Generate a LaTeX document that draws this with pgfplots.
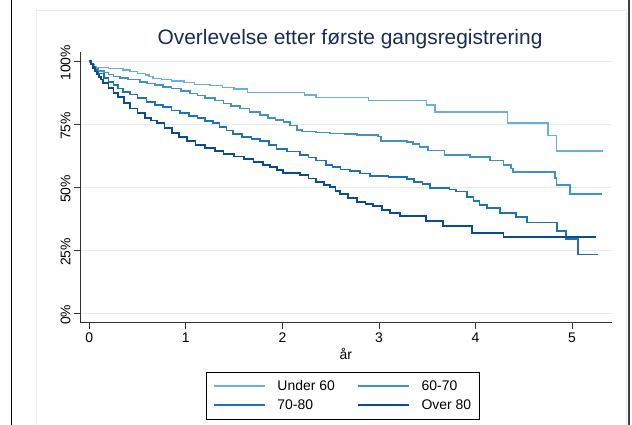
\documentclass[border=0pt]{standalone}
\usepackage{pgfplots}
\pgfplotsset{compat=1.18}
\usepackage{fontspec}
\setmainfont{Liberation Sans}
\definecolor{cA}{HTML}{6BAED6}
\definecolor{cB}{HTML}{4292C6}
\definecolor{cC}{HTML}{2171B5}
\definecolor{cD}{HTML}{0B4A94}
\definecolor{gridc}{HTML}{E4ECF0}
\definecolor{titlec}{HTML}{1C2B55}
\begin{document}
\begin{tikzpicture}
\useasboundingbox (0,0) rectangle (632bp,425bp);
\fill[white] (0,0) rectangle (632bp,425bp);
% outer frame lines
\draw[gridc, line width=1bp] (36bp,-2bp) -- (36bp,414.3bp) -- (626bp,414.3bp) -- (626bp,-2bp);
\draw[black, line width=1.2bp] (11.6bp,0) -- (11.6bp,425bp);
\draw[black!75, line width=2bp] (628.8bp,0) -- (628.8bp,425bp);
\node[anchor=base, text=titlec, font=\fontsize{21}{25}\selectfont] at (350bp,380bp) {Overlevelse etter første gangsregistrering};
\begin{axis}[
  at={(80bp,102.3bp)}, anchor=south west,
  scale only axis, width=531.7bp, height=270.7bp,
  xmin=-0.096, xmax=5.41, ymin=-0.037, ymax=1.037,
  axis x line*=bottom, axis y line*=left,
  axis line style={black!80, line width=0.9bp, -},
  xtick={0,1,2,3,4,5},
  ytick={0,0.25,0.5,0.75,1},
  yticklabels={0\%,25\%,50\%,75\%,100\%},
  tick align=outside, major tick length=6bp,
  tick style={black!80, line width=0.9bp},
  ymajorgrids, grid style={gridc, line width=1bp},
  /pgf/number format/assume math mode=true,
  tick label style={font=\fontsize{14}{16}\selectfont},
  yticklabel style={rotate=90, anchor=south, xshift=-1.5bp},
  xticklabel style={yshift=-1bp},
  xlabel={år},
  xlabel style={at={(axis description cs:0.5,0)}, anchor=base, yshift=-36.3bp, font=\fontsize{14}{16}\selectfont},
  clip=false,
  legend columns=2,
  legend style={at={(0.4946,-0.181)}, anchor=north, draw=black, line width=0.8bp,
    font=\fontsize{14}{16}\selectfont, inner xsep=6bp, inner ysep=6bp, row sep=4bp,
    /tikz/every odd column/.append style={column sep=10bp},
    /tikz/every even column/.append style={column sep=20bp},
    cells={anchor=west}},
  legend image code/.code={\draw[#1] (0bp,0bp) -- (51bp,0bp);},
  const plot mark left,
]
\addplot[const plot, cA, line width=1.5bp] coordinates {
(0,1) (0.01,0.995) (0.02,0.99) (0.035,0.985) (0.05,0.98) (0.07,0.976) (0.2,0.972) (0.35,0.965) (0.42,0.96) (0.5,0.952) (0.58,0.945) (0.62,0.94) (0.66,0.932) (0.75,0.928) (0.85,0.922) (0.98,0.916) (1.09,0.909) (1.25,0.905) (1.38,0.897) (1.5,0.89) (1.64,0.877) (2.23,0.866) (2.35,0.857) (2.89,0.844) (3.49,0.827) (3.58,0.798) (4.33,0.756) (4.75,0.705) (4.84,0.644) (5.32,0.644)
};
\addlegendentry{Under 60}
\addplot[const plot, cB, line width=1.6bp] coordinates {
(0,1) (0.02,0.99) (0.04,0.98) (0.06,0.97) (0.095,0.962) (0.15,0.955) (0.2,0.948) (0.25,0.94) (0.318,0.933) (0.4,0.928) (0.525,0.919) (0.6,0.912) (0.68,0.905) (0.766,0.899) (0.85,0.892) (0.95,0.882) (1.04,0.873) (1.12,0.864) (1.2,0.855) (1.3,0.845) (1.39,0.833) (1.47,0.823) (1.56,0.813) (1.66,0.80) (1.77,0.787) (1.85,0.775) (1.93,0.768) (2.01,0.760) (2.08,0.745) (2.15,0.727) (2.2,0.721) (2.35,0.718) (2.49,0.714) (2.65,0.711) (2.77,0.708) (2.99,0.701) (3.02,0.685) (3.29,0.681) (3.35,0.672) (3.42,0.661) (3.51,0.646) (3.68,0.628) (3.94,0.621) (4.15,0.606) (4.29,0.589) (4.37,0.575) (4.39,0.560) (4.82,0.536) (4.84,0.509) (4.98,0.473) (5.31,0.473)
};
\addlegendentry{60-70}
\addplot[const plot, cC, line width=1.7bp] coordinates {
(0,1) (0.02,0.99) (0.04,0.978) (0.06,0.968) (0.08,0.958) (0.095,0.952) (0.15,0.935) (0.2,0.918) (0.25,0.905) (0.3,0.892) (0.352,0.879) (0.42,0.868) (0.5,0.855) (0.594,0.840) (0.68,0.828) (0.76,0.818) (0.85,0.805) (0.939,0.794) (1.03,0.784) (1.12,0.774) (1.2,0.764) (1.28,0.754) (1.35,0.74) (1.42,0.725) (1.49,0.711) (1.58,0.700) (1.68,0.692) (1.77,0.684) (1.86,0.668) (1.94,0.651) (2.05,0.642) (2.18,0.628) (2.27,0.618) (2.35,0.606) (2.45,0.59) (2.52,0.58) (2.60,0.571) (2.70,0.565) (2.8,0.555) (2.91,0.545) (3.1,0.54) (3.29,0.533) (3.36,0.522) (3.45,0.512) (3.53,0.498) (3.73,0.492) (3.80,0.483) (3.91,0.463) (3.98,0.447) (4.04,0.430) (4.12,0.418) (4.25,0.399) (4.42,0.383) (4.53,0.360) (4.84,0.327) (4.94,0.294) (5.06,0.234) (5.27,0.234)
};
\addlegendentry{70-80}
\addplot[const plot, cD, line width=1.8bp] coordinates {
(0,1) (0.02,0.99) (0.04,0.975) (0.06,0.96) (0.08,0.948) (0.1,0.938) (0.12,0.928) (0.145,0.913) (0.2,0.893) (0.25,0.875) (0.3,0.858) (0.36,0.835) (0.42,0.813) (0.5,0.795) (0.58,0.775) (0.64,0.765) (0.70,0.754) (0.78,0.735) (0.86,0.715) (0.93,0.70) (1.01,0.684) (1.1,0.668) (1.2,0.655) (1.3,0.645) (1.39,0.632) (1.5,0.622) (1.6,0.612) (1.70,0.602) (1.8,0.59) (1.87,0.582) (1.94,0.568) (2.01,0.556) (2.18,0.549) (2.27,0.535) (2.35,0.522) (2.43,0.51) (2.49,0.5) (2.55,0.485) (2.60,0.473) (2.68,0.458) (2.77,0.443) (2.86,0.434) (2.94,0.426) (3.03,0.41) (3.11,0.397) (3.22,0.387) (3.49,0.367) (3.66,0.346) (3.96,0.320) (4.29,0.304) (5.25,0.304)
};
\addlegendentry{Over 80}
\end{axis}
\end{tikzpicture}
\end{document}
